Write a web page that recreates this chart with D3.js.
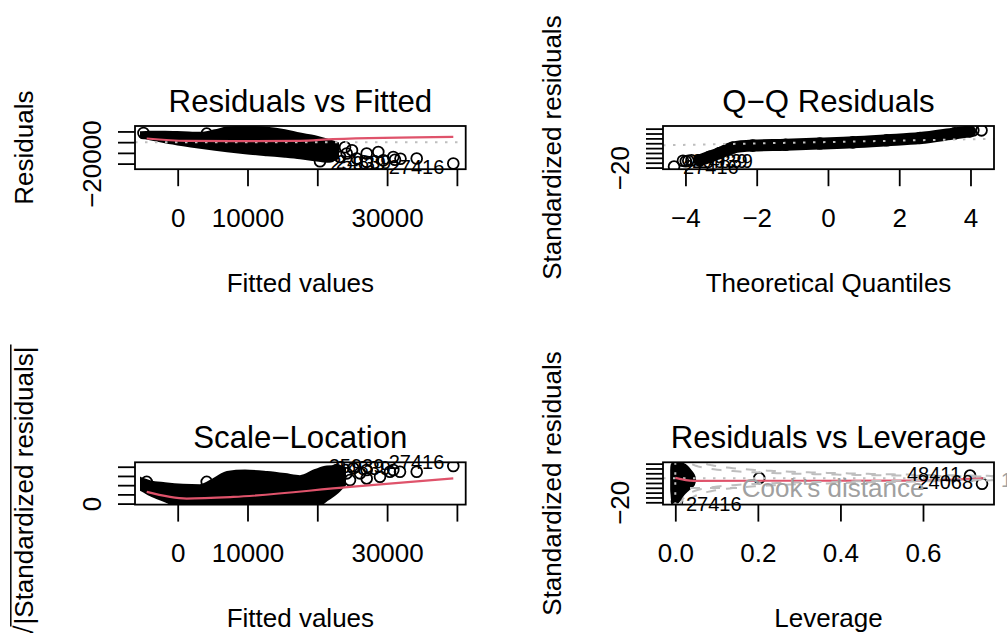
<!DOCTYPE html>
<html><head><meta charset="utf-8">
<script src="https://cdn.jsdelivr.net/npm/d3@7"></script>
<style>body{margin:0;background:#fff}</style>
</head><body>
<svg id="c" width="1007" height="633"></svg>
<script>
// ---------- Panel 1: Residuals vs Fitted ----------
const rvfXDomain = [-6117, 41261];
const rvfYDomain = [-25209, 15070];
const rvfXTicks = [0, 10000, 20000, 30000, 40000];
const rvfXTickLabels = ["0", "10000", "", "30000", ""];
const rvfYTicks = [-20000, -10000, 0, 10000];
const rvfYTickLabels = ["\u221220000", "", "", ""];
const rvfBlobX = [-5260, -3970, -1820, 760, 3200, 5340, 7060, 9640, 12790, 15370, 17520, 19670, 21390, 22970];
const rvfBlobUpper = [9209, 9674, 9674, 9209, 8744, 11070, 13581, 14326, 13395, 11070, 8000, 5488, 2419, -1023];
const rvfBlobLower = [4558, 2698, -93, -2884, -5209, -7070, -8465, -10326, -12186, -13581, -14977, -16837, -18233, -14977];
const rvfPointX = [-4900, 4155, 20387, 21820, 22290, 23252, 23968, 24212, 24970, 25645, 27077, 27077, 28739, 29456, 30888, 31132, 31920, 34241, 39484];
const rvfPointY = [8600, 8000, -17767, -13116, -7535, -13767, -4744, -10605, -7535, -15256, -10605, -18419, -9116, -16837, -13767, -16372, -15442, -15256, -19907];
const rvfSmoothX = [-4441, 1289, 7966, 17522, 22290, 39484];
const rvfSmoothY = [3400, 1200, 900, 1200, 2800, 4900];
const rvfIdText = ["25939", "24839", "27416"];
const rvfIdX = [31132, 31920, 39484];
const rvfIdY = [-16372, -15442, -19907];

// ---------- Panel 2: Q-Q Residuals ----------
const qqXDomain = [-4.63, 4.66];
const qqYDomain = [-21.33, 14.17];
const qqXTicks = [-4, -2, 0, 2, 4];
const qqXTickLabels = ["\u22124", "\u22122", "0", "2", "4"];
const qqYTicks = [-20, -16, -12, -8, -4, 0, 4, 8, 12];
const qqYTickLabels = ["\u221220", "", "", "", "", "", "", "", ""];
const qqTheo = [-4.32, -4.07, -3.99, -3.92, -3.83, -3.60, -3.32, -3.04, -2.67, -2.11, -1.19, -0.23, 0.70, 1.65, 2.58, 3.56, 3.98, 4.08, 4.31];
const qqStd = [-19.17, -14.42, -14.83, -14.42, -14.0, -14.0, -11.08, -8.0, -3.58, -1.92, -1.25, -0.25, 0.75, 2.42, 4.25, 8.08, 9.75, 10.58, 10.58];
const qqLine = [0.99, 0.575]; // intercept, slope
const qqIdText = ["27416", "25939", "24839"];
const qqIdIndex = [0, 1, 3];

// ---------- Panel 3: Scale-Location ----------
const slXDomain = rvfXDomain;
const slYDomain = [-0.109, 4.48];
const slXTicks = rvfXTicks;
const slXTickLabels = rvfXTickLabels;
const slYTicks = [0, 1, 2, 3, 4];
const slYTickLabels = ["0", "", "", "", ""];
const slBlobX = [-5258, -3968, -1819, 759, 3195, 5344, 7063, 9642, 12794, 15372, 17522, 19671, 21390, 22966, 23968];
const slBlobUpper = [2.77, 2.44, 2.22, 2.05, 2.0, 2.77, 3.42, 3.58, 3.42, 3.20, 2.98, 3.64, 4.02, 4.08, 3.86];
const slBlobLower = [1.45, 0.91, 0.25, -0.5, -0.5, -0.5, -0.5, -0.5, -0.5, -0.5, -0.5, -0.5, 0.36, 1.23, 2.0];
const slPointX = [-4441, 4155, 23252, 24685, 24212, 26117, 27077, 28983, 30415, 31848, 34241, 39484, 27077, 30888, 22779, 25158];
const slPointY = [2.36, 2.36, 2.91, 2.55, 3.28, 3.28, 2.73, 2.91, 3.45, 3.45, 3.45, 4.08, 3.64, 3.64, 3.64, 3.83];
const slSmoothX = [-4441, 1289, 7966, 24685, 39484];
const slSmoothY = [1.27, 0.55, 0.72, 1.81, 2.73];
const slIdText = ["25939", "24839", "27416"];
const slIdX = [30888, 31848, 39484];
const slIdY = [3.64, 3.45, 4.08];

// ---------- Panel 4: Residuals vs Leverage ----------
const lvXDomain = [-0.0298, 0.772];
const lvYDomain = [-21.9, 13.1];
const lvXTicks = [0, 0.2, 0.4, 0.6];
const lvXTickLabels = ["0.0", "0.2", "0.4", "0.6"];
const lvYTicks = [-20, -16, -12, -8, -4, 0, 4, 8, 12];
const lvYTickLabels = ["\u221220", "", "", "", "", "", "", "", ""];
const lvBlobY = [12.54, 10.9, 6.8, 2.7, -1.39, -5.49, -9.59, -13.69, -17.79, -20.25];
const lvBlobLeft = [-0.006, -0.009, -0.010, -0.010, -0.010, -0.010, -0.010, -0.009, -0.008, -0.005];
const lvBlobRight = [0.015, 0.024, 0.036, 0.045, 0.048, 0.045, 0.032, 0.020, 0.012, 0.006];
const lvPointX = [0.004, 0.2034, 0.714, 0.743];
const lvPointY = [-19.2, 0, 2.13, -4.67];
const lvSmoothX = [0, 0.044, 0.60, 0.745];
const lvSmoothY = [0.25, -2.2, -2.0, 0];
const lvIdText = ["27416", "48411", "24068"];
const lvIdIndex = [0, 2, 3];
const cookLevels = [0.5, 1];
const cookP = 11;

// ---------- drawing ----------
const RED = "#DF536B", GRAY = "#BEBEBE";
const FONT = "'Liberation Sans', Arial, Helvetica, sans-serif";
const svg = d3.select("#c").style("font-family", FONT);
svg.append("rect").attr("width", 1007).attr("height", 633).attr("fill", "#fff");
const LW = 1.8, R = 5.4, TICK = 17;

function makePanel(id, box, xDom, yDom, xT, xTL, yT, yTL, title, xlab, ylab) {
  const x = d3.scaleLinear().domain(xDom).range([box.x0, box.x1]);
  const y = d3.scaleLinear().domain(yDom).range([box.y1, box.y0]);
  const g = svg.append("g");
  svg.append("clipPath").attr("id", "clip" + id).append("rect")
    .attr("x", box.x0).attr("y", box.y0).attr("width", box.x1 - box.x0).attr("height", box.y1 - box.y0);
  const plot = g.append("g").attr("clip-path", `url(#clip${id})`);
  const ax = g.append("g").attr("transform", `translate(0,${box.y1})`)
    .call(d3.axisBottom(x).tickValues(xT).tickFormat((d, i) => xTL[i]).tickSize(TICK).tickSizeOuter(0));
  ax.select(".domain").remove();
  ax.selectAll("line").attr("stroke", "#000").attr("stroke-width", LW);
  ax.selectAll("text").attr("y", 57.5).attr("dy", null).attr("font-size", 26).attr("fill", "#000")
    .attr("font-family", FONT);
  const ay = g.append("g").attr("transform", `translate(${box.x0},0)`)
    .call(d3.axisLeft(y).tickValues(yT).tickFormat((d, i) => yTL[i]).tickSize(TICK).tickSizeOuter(0));
  ay.select(".domain").remove();
  ay.selectAll("line").attr("stroke", "#000").attr("stroke-width", LW);
  ay.selectAll("text").attr("x", null).attr("dy", null).attr("text-anchor", "middle")
    .attr("transform", "translate(-34,0) rotate(-90)").attr("font-size", 26).attr("fill", "#000")
    .attr("font-family", FONT);
  const cx = (box.x0 + box.x1) / 2, cy = (box.y0 + box.y1) / 2;
  g.append("text").attr("x", cx).attr("y", box.y0 - 14.5).attr("text-anchor", "middle")
    .attr("font-size", 31.2).text(title);
  g.append("text").attr("x", cx).attr("y", box.y1 + 122.5).attr("text-anchor", "middle")
    .attr("font-size", 26).text(xlab);
  if (ylab) g.append("text").attr("transform", `translate(${box.x0 - 101.7},${cy}) rotate(-90)`)
    .attr("text-anchor", "middle").attr("font-size", 26).text(ylab);
  return {g, plot, x, y, box};
}
function drawBox(p) {
  p.g.append("rect").attr("x", p.box.x0).attr("y", p.box.y0)
    .attr("width", p.box.x1 - p.box.x0).attr("height", p.box.y1 - p.box.y0)
    .attr("fill", "none").attr("stroke", "#000").attr("stroke-width", LW);
}
function circles(p, xs, ys) {
  p.plot.selectAll(null).data(xs).enter().append("circle")
    .attr("cx", (d) => p.x(d)).attr("cy", (d, i) => p.y(ys[i])).attr("r", R)
    .attr("fill", "none").attr("stroke", "#000").attr("stroke-width", LW);
}
function blob(p, xs, up, lo) {
  const area = d3.area().x((d) => p.x(d)).y0((d, i) => p.y(lo[i])).y1((d, i) => p.y(up[i]))
    .curve(d3.curveMonotoneX);
  p.plot.append("path").attr("d", area(xs)).attr("fill", "#000").attr("stroke", "#000").attr("stroke-width", 2);
}
function smooth(p, xs, ys) {
  p.plot.append("path").attr("d", d3.line().x((d) => p.x(d)).y((d, i) => p.y(ys[i])).curve(d3.curveMonotoneX)(xs))
    .attr("fill", "none").attr("stroke", RED).attr("stroke-width", 2.2);
}
function hline(p, v) {
  p.plot.append("line").attr("x1", p.box.x0).attr("x2", p.box.x1).attr("y1", p.y(v)).attr("y2", p.y(v))
    .attr("stroke", GRAY).attr("stroke-width", 2).attr("stroke-dasharray", "2.5,7.5");
}
function idLabel(p, t, xv, yv, pos, dy) {
  p.g.append("text").attr("x", p.x(xv) + (pos === 2 ? -9 : 9)).attr("y", p.y(yv) + dy)
    .attr("text-anchor", pos === 2 ? "end" : "start").attr("font-size", 20).text(t);
}

// Panel 1
const p1 = makePanel(1, {x0: 135, x1: 465.7, y0: 126, y1: 169.2}, rvfXDomain, rvfYDomain,
  rvfXTicks, rvfXTickLabels, rvfYTicks, rvfYTickLabels, "Residuals vs Fitted", "Fitted values", "Residuals");
blob(p1, rvfBlobX, rvfBlobUpper, rvfBlobLower);
circles(p1, rvfPointX, rvfPointY);
hline(p1, 0);
smooth(p1, rvfSmoothX, rvfSmoothY);
drawBox(p1);
rvfIdText.forEach((t, i) => idLabel(p1, t, rvfIdX[i], rvfIdY[i], 2, 10));

// Panel 2
const p2 = makePanel(2, {x0: 663, x1: 994, y0: 126, y1: 169.2}, qqXDomain, qqYDomain,
  qqXTicks, qqXTickLabels, qqYTicks, qqYTickLabels, "Q\u2212Q Residuals", "Theoretical Quantiles", "Standardized residuals");
p2.plot.append("path").attr("d", d3.line().x((d) => p2.x(d)).y((d, i) => p2.y(qqStd[i + 5])).curve(d3.curveMonotoneX)(qqTheo.slice(5, 17)))
  .attr("fill", "none").attr("stroke", "#000").attr("stroke-width", 12).attr("stroke-linejoin", "round").attr("stroke-linecap", "round");
circles(p2, qqTheo, qqStd);
p2.plot.append("line").attr("x1", p2.x(qqXDomain[0])).attr("x2", p2.x(qqXDomain[1]))
  .attr("y1", p2.y(qqLine[0] + qqLine[1] * qqXDomain[0])).attr("y2", p2.y(qqLine[0] + qqLine[1] * qqXDomain[1]))
  .attr("stroke", GRAY).attr("stroke-width", 2).attr("stroke-dasharray", "2.5,7.5");
drawBox(p2);
qqIdText.forEach((t, i) => idLabel(p2, t, qqTheo[qqIdIndex[i]], qqStd[qqIdIndex[i]], 4, 7));

// Panel 3
const p3 = makePanel(3, {x0: 135, x1: 465.7, y0: 462.3, y1: 504.6}, slXDomain, slYDomain,
  slXTicks, slXTickLabels, slYTicks, slYTickLabels, "Scale\u2212Location", "Fitted values", null);
blob(p3, slBlobX, slBlobUpper, slBlobLower);
circles(p3, slPointX, slPointY);
smooth(p3, slSmoothX, slSmoothY);
drawBox(p3);
slIdText.forEach((t, i) => idLabel(p3, t, slIdX[i], slIdY[i], 2, 3));
// sqrt(|Standardized residuals|) label
const yl = p3.g.append("g").attr("transform", `translate(33.3,${(462.3 + 504.6) / 2 + 2}) rotate(-90)`);
const ylt = yl.append("text").attr("text-anchor", "middle").attr("font-size", 26).text("|Standardized residuals|");
const w = ylt.node().getComputedTextLength();
yl.append("text").attr("x", -w / 2 - 1).attr("text-anchor", "end").attr("font-size", 26).text("\u221A");
yl.append("line").attr("x1", -w / 2 - 2).attr("x2", w / 2 + 2).attr("y1", -22.5).attr("y2", -22.5)
  .attr("stroke", "#000").attr("stroke-width", 1.5);

// Panel 4
const p4 = makePanel(4, {x0: 663, x1: 994, y0: 462.3, y1: 504.6}, lvXDomain, lvYDomain,
  lvXTicks, lvXTickLabels, lvYTicks, lvYTickLabels, "Residuals vs Leverage", "Leverage", "Standardized residuals");
const lvArea = d3.area().y((d) => p4.y(d)).x0((d, i) => p4.x(lvBlobLeft[i])).x1((d, i) => p4.x(lvBlobRight[i]))
  .curve(d3.curveMonotoneY);
p4.plot.append("path").attr("d", lvArea(lvBlobY)).attr("fill", "#000").attr("stroke", "#000").attr("stroke-width", 2);
circles(p4, lvPointX, lvPointY);
hline(p4, 0);
p4.plot.append("line").attr("x1", p4.x(0)).attr("x2", p4.x(0)).attr("y1", p4.box.y0).attr("y2", p4.box.y1)
  .attr("stroke", GRAY).attr("stroke-width", 2).attr("stroke-dasharray", "2.5,7.5");
smooth(p4, lvSmoothX, lvSmoothY);
const hh = d3.range(101).map((i) => 0.01 + i * (lvXDomain[1] - 0.01) / 100);
cookLevels.forEach((L) => {
  [1, -1].forEach((s) => {
    p4.plot.append("path").attr("d", d3.line().x((h) => p4.x(h)).y((h) => p4.y(s * Math.sqrt(L * cookP * (1 - h) / h)))(hh))
      .attr("fill", "none").attr("stroke", GRAY).attr("stroke-width", 2).attr("stroke-dasharray", "10,10");
  });
});
drawBox(p4);
lvIdText.forEach((t, i) => idLabel(p4, t, lvPointX[lvIdIndex[i]], lvPointY[lvIdIndex[i]], i === 0 ? 4 : 2, i === 0 ? 10 : 5));
// legend
p4.g.append("line").attr("x1", 690).attr("x2", 737).attr("y1", 488).attr("y2", 488)
  .attr("stroke", GRAY).attr("stroke-width", 2).attr("stroke-dasharray", "10,10");
p4.g.append("text").attr("x", 741.7).attr("y", 496.7).attr("font-size", 26).attr("fill", "#A0A0A0").text("Cook's distance");
// cook level labels on the right
const xmax = lvXDomain[1];
const aty = cookLevels.map((L) => Math.sqrt(L * cookP * (1 - xmax) / xmax));
p4.g.append("text").attr("x", 1001).attr("y", p4.y(-aty[1]) + 7).attr("font-size", 20).attr("fill", "#A0A0A0").text("1");
</script>
</body></html>
